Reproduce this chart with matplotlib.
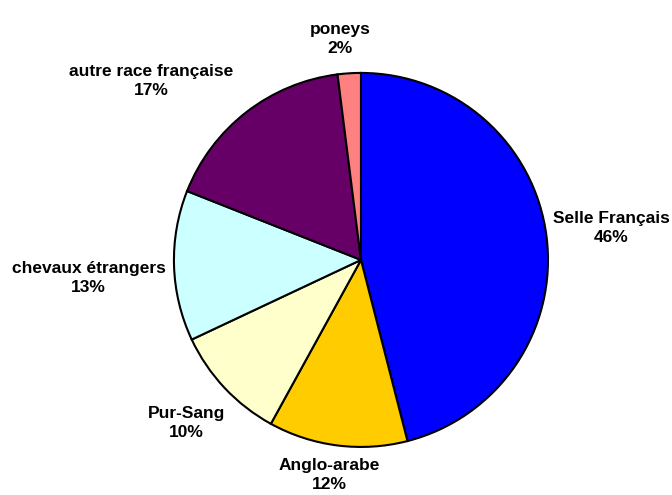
import matplotlib.pyplot as plt

# Répartition des chevaux par race
races = ["Selle Français", "Anglo-arabe", "Pur-Sang", "chevaux étrangers",
         "autre race française", "poneys"]
parts = [46, 12, 10, 13, 17, 2]
couleurs = ["#0000FF", "#FFCC00", "#FFFFCC", "#CCFFFF", "#660066", "#FF8080"]

# position des étiquettes (rayon = 1)
pos_labels = [(1.337, 0.171), (-0.171, -1.150), (-0.933, -0.872),
              (-1.457, -0.096), (-1.123, 0.957), (-0.112, 1.182)]


def main():
    fig = plt.figure(figsize=(6.72, 4.95), dpi=100)
    ax = fig.add_axes([0, 0, 1, 1])

    ax.pie(parts, colors=couleurs, startangle=90, counterclock=False,
           radius=1.0, wedgeprops=dict(edgecolor="black", linewidth=1.5))

    for nom, val, (x, y) in zip(races, parts, pos_labels):
        ax.text(x, y, f"{nom}\n{val}%", ha="center", va="center",
                fontsize=12.5, fontweight="bold", family="Liberation Sans",
                linespacing=1.3)

    ax.set_xlim(-1.930, 1.663)
    ax.set_ylim(-1.257, 1.390)
    ax.set_aspect("auto")
    ax.axis("off")

    fig.savefig("out.png", dpi=100)


if __name__ == "__main__":
    main()
